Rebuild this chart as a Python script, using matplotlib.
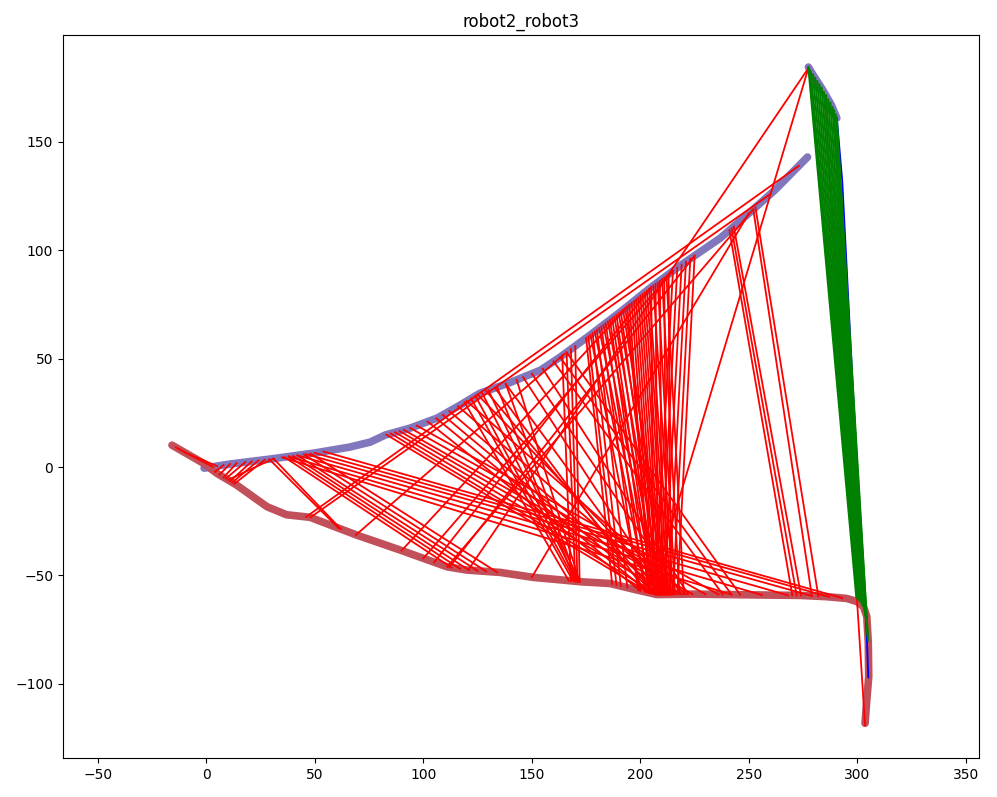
import numpy as np
import matplotlib
matplotlib.use("Agg")
import matplotlib.pyplot as plt

# ---- robot2 trajectory (thick, keyframe part) ----
r2a_x = [-1, 11, 29.5, 50, 66, 75.5, 82.5, 94, 106.4, 117, 126, 140, 154, 163, 177, 190.7, 204.5, 218, 236.8, 250.6, 262, 277]
r2a_y = [-0.5, 1.4, 3.7, 6.5, 9.2, 11.5, 14.8, 18, 22.6, 28.6, 34, 39, 44.7, 50.7, 61, 71.5, 82.6, 92.7, 105.6, 117.6, 127.8, 143]
r2b_x = [277.4, 279.5, 284, 288, 290.5]
r2b_y = [184.5, 181, 174, 167, 161]
# robot2 thin trajectory tail
r2t_x = [290.5, 293, 297.7, 302, 303.5, 304.3, 305]
r2t_y = [161, 132, 40, -40, -62, -78, -97]

# ---- robot3 trajectory ----
r3_x = [-15.8, -10.4, -1.2, 4.9, 14, 28, 37, 48, 51, 69.4, 89.4, 110.9, 120, 135.4, 150.8, 163,
        172.3, 186, 198.4, 207.6, 224.5, 255, 273.6, 286, 295, 299.7, 302.8, 304.3, 305, 305.2, 304.3, 303.5]
r3_y = [10.1, 7, 1.7, -2.9, -8.3, -18.3, -22, -23.2, -24.4, -31.4, -38.3, -46, -47.5, -48.6, -50.9, -52,
        -52.9, -53.7, -56.7, -58.8, -58.6, -59, -59.2, -59.8, -60.6, -62, -64.4, -69, -81, -96.7, -107.5, -118.2]

# ---- wrong matches (red): position along robot2 (x) -> position along robot3 (x) ----
bad_r2 = [3, 5, 8, 11, 14, 18, 21, 24, 27, 31,
          29, 31,
          36, 38, 40, 42, 45, 48,
          35, 38, 42, 46, 50, 54,
          83, 85, 87, 89, 91, 94, 97,
          119, 122, 124, 127, 130, 134, 138, 143,
          102, 106, 109, 112, 116, 120, 125, 129, 133, 138, 146, 150, 155,
          164, 166, 168, 170,
          175, 176, 178, 180, 182, 184, 186, 187, 189, 191, 193, 195, 197, 199, 201, 203, 205,
          207, 209, 211, 213, 215, 217, 219, 221, 223, 225,
          177, 179, 181, 183, 185, 188, 190, 192, 194, 196, 198, 200, 202, 204, 206, 208, 210, 212,
          165, 195, 205, 215, 225,
          160, 163, 166,
          241, 242, 243, 252, 253,
          273, 260, 252, 250]
bad_r3 = [-14, -10, 4, 6, 8, 9, 11, 12, 13, 10,
          61, 62,
          113, 117, 121, 125, 129, 134,
          242, 256, 268, 279, 287, 293,
          204, 208, 213, 219, 224, 230, 236,
          167, 169, 170, 171, 172, 170, 171, 172,
          200, 204, 208, 211, 216, 221, 214, 207, 203, 209, 211, 219, 222,
          168, 170, 171, 172,
          187, 189, 191, 194, 199, 202, 204, 206, 207, 209, 211, 204, 207, 209, 211, 213, 206,
          208, 210, 212, 214, 207, 209, 211, 213, 215, 217,
          200, 203, 205, 207, 209, 210, 212, 213, 205, 206, 208, 210, 212, 214, 215, 216, 218, 220,
          69, 90, 105, 100, 112,
          238, 242, 246,
          270, 272, 274, 279, 282,
          46, 48, 111, 150]
# wrong matches from the upper robot2 segment (explicit points)
bad_top_x1 = [277.4, 277.4, 285]
bad_top_y1 = [184, 184, 169]
bad_top_x2 = [121, 205, 303.5]
bad_top_y2 = [-47, -57.5, -119]

# ---- correct matches (green) ----
good_x1 = [277.4, 277.8, 278.5, 279.5, 280.5, 281.5, 282.5, 283.5, 284.5, 285.5, 286.5, 287.5, 288.5, 289.2, 290, 290.5]
good_y1 = [184.5, 183.5, 182.5, 181, 179.5, 178, 176.5, 175, 173, 171.5, 169.5, 168, 166, 164.5, 162.5, 161]
good_x2 = [299.5, 300, 300.5, 301, 301.5, 302, 302.5, 303, 303.3, 303.6, 303.9, 304.1, 304.3, 304.5, 304.7, 304.9]
good_y2 = [-60, -60.5, -61, -61.5, -62, -63, -64, -65, -66.5, -68, -70, -72, -74, -76, -78, -80]

fig = plt.figure(figsize=(9.97, 7.97), dpi=100)
ax = fig.add_axes([63 / 997, 1 - 758 / 797, 916 / 997, 723 / 797])

purple = '#8077bd'
brown = '#c1505a'

ax.plot(r2a_x, r2a_y, color=purple, lw=5.5, solid_capstyle='round', solid_joinstyle='round', zorder=1)
ax.plot(r2b_x, r2b_y, color=purple, lw=5.5, solid_capstyle='round', solid_joinstyle='round', zorder=1)
ax.plot(r3_x, r3_y, color=brown, lw=5.5, solid_capstyle='round', solid_joinstyle='round', zorder=1)
ax.plot(r2t_x, r2t_y, color='blue', lw=1.3, zorder=2)

# locate the matched points on the trajectories
r2x = np.array(r2a_x); r2y = np.array(r2a_y)
r3x = np.array(r3_x); r3y = np.array(r3_y)
k = int(np.argmax(np.diff(r3x) <= 0)) + 1
bx1 = np.array(bad_r2, float)
by1 = np.interp(bx1, r2x, r2y)
bx2 = np.array(bad_r3, float)
by2 = np.interp(bx2, r3x[:k], r3y[:k])

for x1, y1, x2, y2 in zip(bx1, by1, bx2, by2):
    ax.plot([x1, x2], [y1, y2], color='red', lw=1.3, zorder=3)
for x1, y1, x2, y2 in zip(bad_top_x1, bad_top_y1, bad_top_x2, bad_top_y2):
    ax.plot([x1, x2], [y1, y2], color='red', lw=1.3, zorder=3)
for x1, y1, x2, y2 in zip(good_x1, good_y1, good_x2, good_y2):
    ax.plot([x1, x2], [y1, y2], color='green', lw=1.5, zorder=4)

ax.set_xlim(-66, 356)
ax.set_ylim(-134.2, 199.3)
ax.set_xticks([-50, 0, 50, 100, 150, 200, 250, 300, 350])
ax.set_yticks([-100, -50, 0, 50, 100, 150])
ax.set_title('robot2_robot3')

fig.savefig('out.png', dpi=100)
